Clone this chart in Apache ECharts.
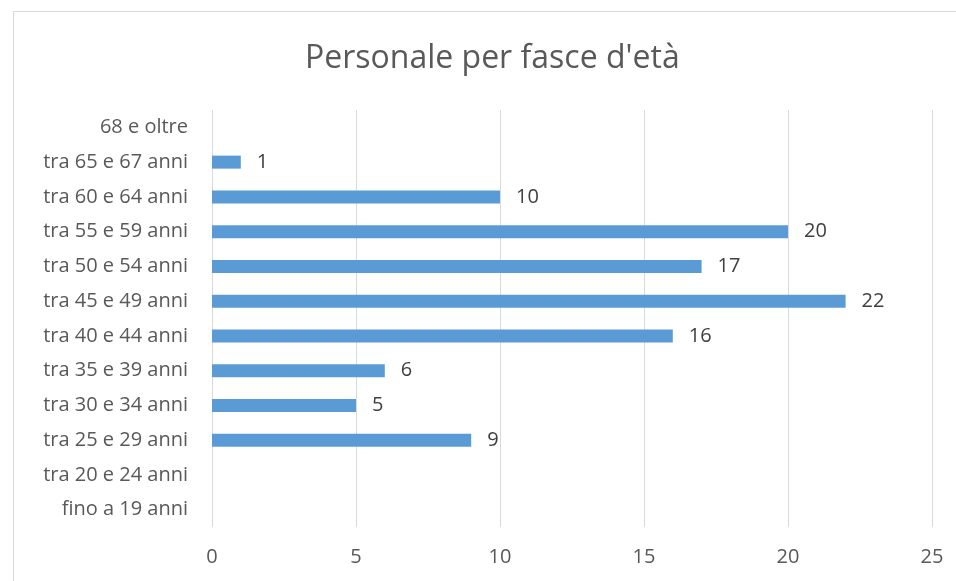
<!DOCTYPE html>
<html><head><meta charset="utf-8">
<script src="https://cdn.jsdelivr.net/npm/echarts@6/dist/echarts.min.js"></script>
<style>html,body{margin:0;padding:0;background:#fff}#c{width:956px;height:581px}</style>
</head><body><div id="c"></div>
<script>
const categories = ['fino a 19 anni','tra 20 e 24 anni','tra 25 e 29 anni','tra 30 e 34 anni','tra 35 e 39 anni','tra 40 e 44 anni','tra 45 e 49 anni','tra 50 e 54 anni','tra 55 e 59 anni','tra 60 e 64 anni','tra 65 e 67 anni','68 e oltre'];
const values = [null, null, 9, 5, 6, 16, 22, 17, 20, 10, 1, null];
const xTicks = [0, 5, 10, 15, 20, 25];
const titleText = "Personale per fasce d'età";

const chart = echarts.init(document.getElementById('c'), null, {renderer:'canvas'});
chart.setOption({
  animation:false,
  graphic:[{type:'rect', shape:{x:13.5,y:11.5,width:980,height:620}, style:{fill:'none', stroke:'#d9d9d9', lineWidth:1}, silent:true}],
  title:{text:titleText, left:300, top:38, textStyle:{fontFamily:'Open Sans', fontSize:32, fontWeight:'normal', color:'#595959'}},
  grid:{left:212, right:24, top:110, bottom:54, containLabel:false},
  xAxis:{type:'value', min:xTicks[0], max:xTicks[xTicks.length-1], interval:5,
    axisLine:{show:false}, axisTick:{show:false},
    splitLine:{show:true, lineStyle:{color:'#d9d9d9', width:1}},
    axisLabel:{fontFamily:'Open Sans', fontSize:20, color:'#595959', margin:20}},
  yAxis:{type:'category', data:categories,
    axisLine:{show:false}, axisTick:{show:false},
    axisLabel:{fontFamily:'Open Sans', fontSize:20, color:'#595959', margin:24}},
  series:[{type:'bar', data:values, barWidth:13, itemStyle:{color:'#5b9bd5'},
    label:{show:true, position:'right', distance:16, fontFamily:'Open Sans', fontSize:20, color:'#404040',
      formatter:p=> (p.value==null||p.value===0)?'':String(p.value)}}]
});
</script></body></html>
